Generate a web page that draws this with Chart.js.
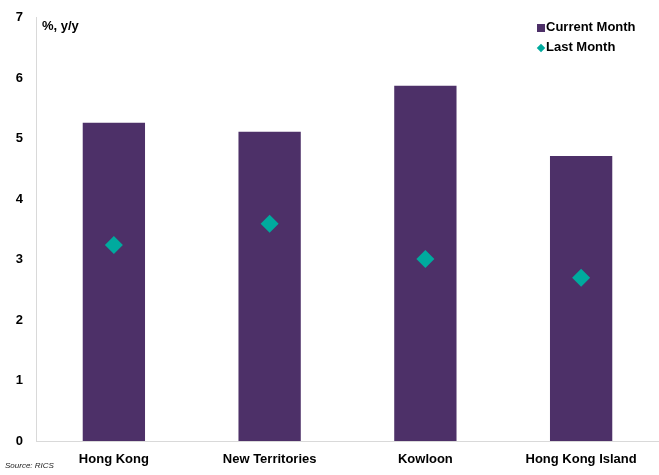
<!DOCTYPE html>
<html>
<head>
<meta charset="utf-8">
<script src="https://cdn.jsdelivr.net/npm/chart.js@4.4.1/dist/chart.umd.min.js"></script>
<style>
  body { margin: 0; background: #fff; font-family: 'Liberation Sans', Arial, sans-serif; }
  #wrap { position: relative; width: 659px; height: 475px; }
  .note { position: absolute; font-weight: bold; font-size: 13px; color: #000; white-space: nowrap; }
  .src { position: absolute; left: 5px; top: 461px; font-size: 8px; font-style: italic; color: #222; }
  .key { position: absolute; left: 537px; font-weight: bold; font-size: 13px; color: #000; white-space: nowrap; line-height: 16px; }
  .key i { display: inline-block; vertical-align: middle; margin-right: 1px; }
</style>
</head>
<body>
<div id="wrap">
  <canvas id="hk"></canvas>
  <div class="note" style="left:42px; top:18px;">%, y/y</div>
  <div class="key" style="top:19px;"><i style="width:8px;height:8px;background:#4d3068;"></i>Current Month</div>
  <div class="key" style="top:39px;"><i style="width:6px;height:6px;background:#00aa9e;transform:rotate(45deg);margin-left:1px;margin-right:2px;"></i>Last Month</div>
  <div class="src">Source: RICS</div>
</div>
<script>
  var regions      = ['Hong Kong', 'New Territories', 'Kowloon', 'Hong Kong Island']
  var currentMonth = [5.26, 5.11, 5.87, 4.71]
  var lastMonth    = [3.24, 3.59, 3.01, 2.70]

  var font = { family: "'Liberation Sans', Arial, sans-serif", size: 13, weight: 'bold' }

  var chartData = {
    labels  : regions,
    datasets: [
      {
        type            : 'line',
        label           : 'Last Month',
        data            : lastMonth,
        showLine        : false,
        pointStyle      : 'rectRot',
        pointRadius     : 9,
        pointBorderWidth: 0,
        backgroundColor : '#00aa9e',
        borderColor     : '#00aa9e',
        order           : 0
      },
      {
        type           : 'bar',
        label          : 'Current Month',
        data           : currentMonth,
        backgroundColor: '#4d3068',
        borderWidth    : 0,
        barPercentage  : 0.4,
        categoryPercentage: 1,
        order          : 1
      }
    ]
  }

  // fixed axis sizes, no auto padding, so the plot runs to the right edge
  var chartOptions = {
    responsive         : true,
    maintainAspectRatio: false,
    animation          : false,
    layout : { autoPadding: false, padding: { top: 17.5, right: 0, bottom: 0, left: 0 } },
    plugins: { legend: { display: false }, tooltip: { enabled: false } },
    scales : {
      x: {
        grid  : { display: false, drawTicks: false },
        border: { color: '#d9d9d9', width: 1 },
        ticks : { color: '#000', font: font, padding: 11 },
        afterFit: function (s) { s.height = 34; s.paddingLeft = 0; s.paddingRight = 0 }
      },
      y: {
        min   : 0,
        max   : 7,
        grid  : { display: false, drawTicks: false },
        border: { color: '#d9d9d9', width: 1 },
        ticks : { stepSize: 1, color: '#000', font: font, padding: 13 },
        afterFit: function (s) { s.width = 36; s.paddingTop = 0; s.paddingBottom = 0 }
      }
    }
  }

  new Chart(document.getElementById('hk').getContext('2d'), {
    data   : chartData,
    options: chartOptions
  })
</script>
</body>
</html>
